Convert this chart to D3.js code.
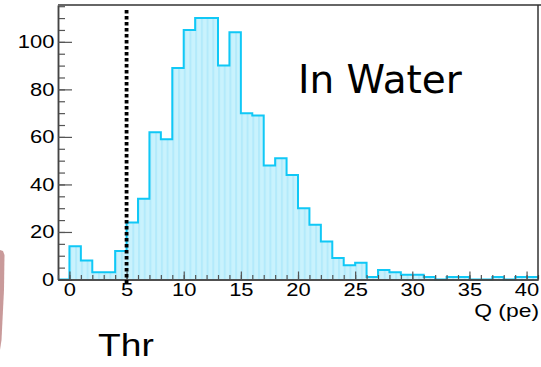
<!DOCTYPE html>
<html>
<head>
<meta charset="utf-8">
<script src="https://cdn.jsdelivr.net/npm/d3@7"></script>
<style>
  html, body { margin: 0; padding: 0; background: #fff; }
  svg { display: block; }
</style>
</head>
<body>
<svg id="chart" width="541" height="367"></svg>
<script>
// Charge spectrum, 1 pe bins from -1 to 41
const binEdges = d3.range(-1, 41);   // lower edge of each bin
const counts = [
  0, 14, 8, 3, 3, 12, 24, 34, 62, 59,
  89, 105, 110, 110, 90, 104, 70, 69, 48, 51,
  44, 30, 23, 16, 9, 6, 7, 1, 4, 3,
  2, 2, 1, 0, 1, 1, 0, 0, 1, 0,
  1, 1
];
const xDomain = [-1, 41];
const yMax = d3.max(counts) * 1.05;
const xMajorTicks = d3.range(0, 41, 5);
const xMinorTicks = d3.range(-1, 42, 1);
const yMajorTicks = d3.range(0, 101, 20);
const yMinorTicks = d3.range(0, 116, 5);
const threshold = 5;
const xTitle = "Q (pe)";
const mainLabel = "In Water";
const thrLabel = "Thr";

const svg = d3.select("#chart");
const padL = 58, padR = 538, padT = 5, padB = 279.5;
const stretch = 1.22;   // wide Helvetica-style lettering

const x = d3.scaleLinear().domain(xDomain).range([padL, padR]);
const y = d3.scaleLinear().domain([0, yMax]).range([padB, padT]);

// striped fill used by the histogram
const defs = svg.append("defs");
const pat = defs.append("pattern")
  .attr("id", "stripes")
  .attr("patternUnits", "userSpaceOnUse")
  .attr("x", padL)
  .attr("width", (x(1) - x(0)) / 2)
  .attr("height", 10);
pat.append("rect").attr("width", (x(1) - x(0)) / 2).attr("height", 10).attr("fill", "#c9f2fd");
pat.append("rect").attr("width", 2).attr("height", 10).attr("fill", "#b3eafb");

// rosy edge piece at the far left
svg.append("path")
  .attr("d", "M0,250 L3,251 L4.5,255 L4,290 L1.5,340 L0,350 Z")
  .attr("fill", "#c99a9a");

// histogram data points (step after), closing at the upper edge
const pts = binEdges.map((e, i) => [e, counts[i]]);
pts.push([xDomain[1], counts[counts.length - 1]]);

const area = d3.area()
  .x(d => x(d[0]))
  .y0(y(0))
  .y1(d => y(d[1]))
  .curve(d3.curveStepAfter);
const line = d3.line()
  .x(d => x(d[0]))
  .y(d => y(d[1]))
  .curve(d3.curveStepAfter);

svg.append("path").datum(pts)
  .attr("d", area)
  .attr("fill", "url(#stripes)");
svg.append("path").datum(pts)
  .attr("d", line)
  .attr("fill", "none")
  .attr("stroke", "#10c8f6")
  .attr("stroke-width", 2);

// axes
const font = "'Liberation Sans', Arial, sans-serif";

const yAxisMinor = d3.axisLeft(y).tickValues(yMinorTicks).tickSizeInner(-7).tickSizeOuter(0).tickFormat("");
const yAxisMajor = d3.axisLeft(y).tickValues(yMajorTicks).tickSizeInner(-14).tickSizeOuter(0).tickPadding(3);
const gy1 = svg.append("g").attr("transform", `translate(${padL},0)`).call(yAxisMinor);
const gy2 = svg.append("g").attr("transform", `translate(${padL},0)`).call(yAxisMajor);

const xAxisMinor = d3.axisBottom(x).tickValues(xMinorTicks).tickSizeInner(-4.5).tickSizeOuter(0).tickFormat("");
const xAxisMajor = d3.axisBottom(x).tickValues(xMajorTicks).tickSizeInner(-8).tickSizeOuter(0).tickPadding(4);
const gx1 = svg.append("g").attr("transform", `translate(0,${padB})`).call(xAxisMinor);
const gx2 = svg.append("g").attr("transform", `translate(0,${padB})`).call(xAxisMajor);

[gy1, gy2, gx1, gx2].forEach(g => {
  g.selectAll(".domain").attr("stroke", "#444").attr("stroke-width", 1.5);
  g.selectAll(".tick line").attr("stroke", "#555").attr("stroke-width", 1.2);
  g.selectAll(".tick text")
    .attr("font-family", font).attr("font-size", 18).attr("fill", "#000")
    .attr("transform", `scale(${stretch},1)`);
});

// top and right frame
svg.append("line").attr("x1", padL).attr("x2", 541).attr("y1", padT).attr("y2", padT)
  .attr("stroke", "#666").attr("stroke-width", 2);
svg.append("line").attr("x1", padR).attr("x2", padR).attr("y1", padT).attr("y2", padB)
  .attr("stroke", "#333").attr("stroke-width", 1.5);

// threshold marker
svg.append("line")
  .attr("x1", x(threshold)).attr("x2", x(threshold))
  .attr("y1", 10).attr("y2", 285)
  .attr("stroke", "#000").attr("stroke-width", 3.8)
  .attr("stroke-dasharray", "3.4,2.6");

// titles and labels
svg.append("text")
  .attr("transform", `translate(${padR + 1},317) scale(1.27,1)`)
  .attr("text-anchor", "end")
  .attr("font-family", font).attr("font-size", 18)
  .text(xTitle);

svg.append("text").attr("x", 298).attr("y", 93)
  .attr("font-family", "'DejaVu Sans', sans-serif").attr("font-size", 39)
  .text(mainLabel);

svg.append("text")
  .attr("transform", "translate(98,356) scale(1.2,1)")
  .attr("font-family", font).attr("font-size", 31)
  .text(thrLabel);
</script>
</body>
</html>
